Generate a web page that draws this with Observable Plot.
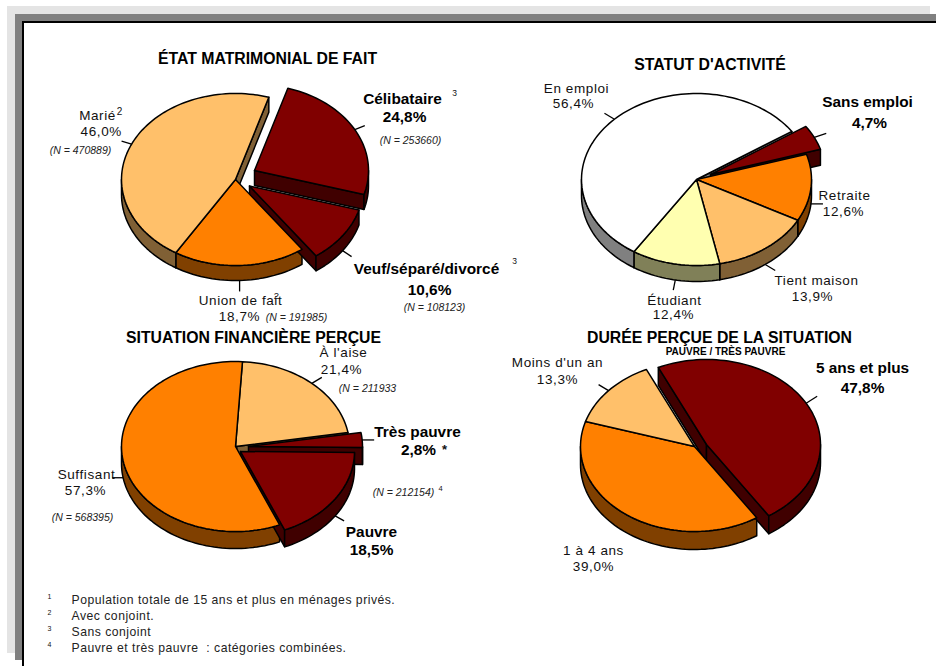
<!DOCTYPE html>
<html lang="fr">
<head>
<meta charset="utf-8">
<script src="https://cdn.jsdelivr.net/npm/d3@7"></script>
<script src="https://cdn.jsdelivr.net/npm/@observablehq/plot@0.6"></script>
<style>
html,body{margin:0;padding:0;background:#fff;width:936px;height:666px;overflow:hidden}
#stage{position:relative;width:936px;height:666px}
.f{position:absolute}
#chart{position:absolute;left:0;top:0}
#chart svg{background:transparent;display:block}
.wide text{letter-spacing:0.6px}
.wide2 text{letter-spacing:0.5px}
</style>
</head>
<body>
<div id="stage">
<div class="f" style="left:7px;top:6px;width:923px;height:647px;background:#e4e4e4"></div>
<div class="f" style="left:15px;top:14px;width:921px;height:646px;background:#808080"></div>
<div class="f" style="left:22px;top:21px;width:914px;height:645px;background:#000"></div>
<div class="f" style="left:24px;top:23px;width:912px;height:643px;background:#fff"></div>
<div id="chart"></div>
</div>
<script>
// ---- values ----
const maritalCategories = ["Célibataire", "Veuf/séparé/divorcé", "Union de fait", "Marié"];
const maritalValues = [24.8, 10.6, 18.7, 46.0];
const maritalN = ["(N = 253660)", "(N = 108123)", "(N = 191985)", "(N = 470889)"];

const activityCategories = ["Sans emploi", "Retraite", "Tient maison", "Étudiant", "En emploi"];
const activityValues = [4.7, 12.6, 13.9, 12.4, 56.4];

const financeCategories = ["À l'aise", "Très pauvre", "Pauvre", "Suffisant"];
const financeValues = [21.4, 2.8, 18.5, 57.3];
const financeN = ["(N = 211933", "", "(N = 212154)", "(N = 568395)"];

const durationCategories = ["5 ans et plus", "1 à 4 ans", "Moins d'un an"];
const durationValues = [47.8, 39.0, 13.3];

const titles = ["ÉTAT MATRIMONIAL DE FAIT", "STATUT D'ACTIVITÉ", "SITUATION FINANCIÈRE PERÇUE", "DURÉE PERÇUE DE LA SITUATION"];
const subtitle = "PAUVRE / TRÈS PAUVRE";
const footnotes = ["Population totale de 15 ans et plus en ménages privés.", "Avec conjoint.", "Sans conjoint", "Pauvre et très pauvre  : catégories combinées."];

// ---- palette ----
const C = {wine:"#800000", wineD:"#400000", orange:"#FF8000", orangeD:"#804000", peach:"#FFC06A", peachD:"#806035",
           yellow:"#FFFFB0", yellowD:"#808058", white:"#FFFFFF", whiteD:"#808080"};

// ---- layout of each pie (explosion offsets, label anchors) ----
const pies = [
  {title:[267,58], cx:235, cy:179, rx:114, ry:86, depth:15, start:17, cats:maritalCategories, vals:maritalValues, ns:maritalN,
   s:[
    {top:C.wine, side:C.wineD, off:[19,-9], bold:1, name:[402,99], pct:[404,117], n:[410,140], lead:[10,-4]},
    {top:C.wine, side:C.wineD, off:[14,6.5], bold:1, name:[426,269], pct:[429,290], n:[434,307], lead:[9,6]},
    {top:C.orange, side:C.orangeD, name:[240,300], pct:[239,316], n:[296,317], lead:[0,11]},
    {top:C.peach, side:C.peachD, name:[97,115], pct:[100.7,131], n:[80,150], lead:[-10,-3]}
   ]},
  {title:[709.5,64], cx:696, cy:179, rx:115, ry:86, depth:16, start:56, cats:activityCategories, vals:activityValues,
   s:[
    {top:C.wine, side:C.wineD, off:[14,-5], bold:1, name:[867,102], pct:[869,123], lead:[12,-4]},
    {top:C.orange, side:C.orangeD, name:[844,195], pct:[843,211], lead:[12,0]},
    {top:C.peach, side:C.peachD, name:[816,280], pct:[812,296], lead:[10,6]},
    {top:C.yellow, side:C.yellowD, name:[674,300], pct:[673,314.5], lead:[-2,10]},
    {top:C.white, side:C.whiteD, name:[576,88.5], pct:[573,103.5], lead:[-10,-6]}
   ]},
  {title:[253,337], cx:235, cy:446, rx:114, ry:85, depth:17, start:3.5, cats:financeCategories, vals:financeValues, ns:financeN,
   s:[
    {top:C.peach, side:C.peachD, name:[343,352], pct:[341,369], n:[367,388], lead:[10,-6]},
    {top:C.wine, side:C.wineD, off:[13,0], bold:1, name:[417,432], pct:[418,450], lead:[12,0]},
    {top:C.wine, side:C.wineD, off:[5,5], bold:1, name:[371,532], pct:[371,550], n:[403,492], lead:[9,5]},
    {top:C.orange, side:C.orangeD, name:[86,474], pct:[85,490], n:[82,517], lead:[-11,0]}
   ]},
  {title:[719,337], cx:694, cy:446, rx:114, ry:85, depth:18, start:335, cats:durationCategories, vals:durationValues,
   s:[
    {top:C.wine, side:C.wineD, off:[12,-2], bold:1, name:[862,368], pct:[862,388], lead:[11,-7]},
    {top:C.orange, side:C.orangeD, name:[593,550], pct:[593,566], lead:[8,-7]},
    {top:C.peach, side:C.peachD, name:[557,362], pct:[557,379], lead:[-10,-6]}
   ]}
];

const rad = d => d * Math.PI / 180;
const pctText = v => v.toFixed(1).replace(".", ",") + "%";

const polys = [], leaders = [], regular = [], bold = [], italic = [], titleRows = [];
let pid = 0;
const addPoly = (pts, fill) => { const id = pid++; pts.forEach(([x, y]) => polys.push({id, x, y, fill})); };

for (const p of pies) {
  const total = d3.sum(p.vals);
  let a = p.start;
  const slices = p.vals.map((v, i) => {
    const a0 = a, a1 = a + v / total * 360; a = a1;
    const [ox, oy] = p.s[i].off || [0, 0];
    return {...p.s[i], v, a0, a1, cx: p.cx + ox, cy: p.cy + oy, label: p.cats[i], n: p.ns ? p.ns[i] : "", nPos: p.s[i].n};
  });
  const pt = (s, ang, drop = 0) => [s.cx + p.rx * Math.sin(rad(ang)), s.cy - p.ry * Math.cos(rad(ang)) + drop];
  const arc = (s, a0, a1, drop = 0) => { const out = []; const n = Math.max(2, Math.ceil(Math.abs(a1 - a0) / 2)); for (let k = 0; k <= n; k++) out.push(pt(s, a0 + (a1 - a0) * k / n, drop)); return out; };
  const radialWalls = s => {
    const na0 = ((s.a0 % 360) + 360) % 360, na1 = ((s.a1 % 360) + 360) % 360;
    if (na0 > 180) addPoly([[s.cx, s.cy], pt(s, s.a0), pt(s, s.a0, p.depth), [s.cx, s.cy + p.depth]], s.side);
    if (na1 > 0 && na1 < 180) addPoly([[s.cx, s.cy], pt(s, s.a1), pt(s, s.a1, p.depth), [s.cx, s.cy + p.depth]], s.side);
  };
  const outerWall = s => {
    for (const base of [0, 360]) {
      const lo = Math.max(s.a0, base + 90), hi = Math.min(s.a1, base + 270);
      if (hi > lo) addPoly([...arc(s, lo, hi), ...arc(s, hi, lo, p.depth)], s.side);
    }
  };
  const topFace = s => addPoly([[s.cx, s.cy], ...arc(s, s.a0, s.a1)], s.top);
  const calm = slices.filter(s => !s.off), out = slices.filter(s => s.off);
  calm.forEach(radialWalls); calm.forEach(outerWall);
  out.forEach(s => { radialWalls(s); outerWall(s); });
  calm.forEach(topFace); out.forEach(topFace);

  for (const s of slices) {
    const mid = (s.a0 + s.a1) / 2, m = ((mid % 360) + 360) % 360;
    const [x1, y1] = pt(s, mid, m > 90 && m < 270 ? p.depth : 0);
    leaders.push({x1, y1, x2: x1 + s.lead[0], y2: y1 + s.lead[1]});
    const rows = s.bold ? bold : regular;
    rows.push({t: s.label, x: s.name[0], y: s.name[1]});
    rows.push({t: pctText(s.v), x: s.pct[0], y: s.pct[1]});
    if (s.n && s.nPos) italic.push({t: s.n, x: s.nPos[0], y: s.nPos[1]});
  }
}
pies.forEach((p, i) => titleRows.push({t: titles[i], x: p.title[0], y: p.title[1]}));

const supers = [
  {t:"2", x:119, y:111, s:10}, {t:"3", x:454, y:93, s:8.5}, {t:"3", x:514, y:261, s:8.5},
  {t:"2", x:276, y:295, s:9.5}, {t:"4", x:440, y:488, s:7.5},
  {t:"1", x:49, y:596, s:7}, {t:"2", x:49, y:612, s:7}, {t:"3", x:49, y:628, s:7}, {t:"4", x:49, y:644, s:7}
];
const noteRows = footnotes.map((t, i) => ({t, x:71, y:600 + 16 * i}));
const font = "Liberation Sans, Arial, sans-serif";
const txt = (rows, o) => Plot.text(rows, {x:"x", y:"y", text:"t", fontFamily:font, lineAnchor:"middle", fill:"#111", ...o});

const chart = Plot.plot({
  width:936, height:666, margin:0,
  x:{domain:[0,936], range:[0,936], axis:null},
  y:{domain:[0,666], range:[0,666], axis:null},
  color:{type:"identity"},
  style:{background:"transparent"},
  marks:[
    Plot.link(leaders, {x1:"x1", y1:"y1", x2:"x2", y2:"y2", stroke:"#000", strokeWidth:1.3}),
    Plot.line(polys, {x:"x", y:"y", z:"id", fill:"fill", stroke:"#000", strokeWidth:1.5, strokeLinejoin:"round", curve:"linear-closed"}),
    txt(titleRows, {fontSize:15.8, fontWeight:"bold", fill:"#000"}),
    txt([{t:subtitle, x:725, y:351}], {fontSize:10, fontWeight:"bold", fill:"#000"}),
    txt(regular, {fontSize:13.5, className:"wide"}),
    txt(bold, {fontSize:15.4, fontWeight:"bold", fill:"#000"}),
    txt(italic, {fontSize:10.5, fontStyle:"italic", fill:"#222"}),
    txt([{t:"*", x:444, y:449}], {fontSize:13, fontWeight:"bold"}),
    txt(supers, {fontSize:"s"}),
    txt(noteRows, {fontSize:12.2, textAnchor:"start", fill:"#222", className:"wide2"})
  ]
});
document.getElementById("chart").appendChild(chart);
</script>
</body>
</html>
